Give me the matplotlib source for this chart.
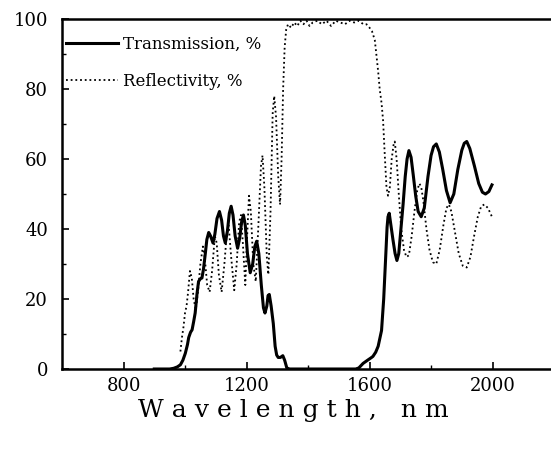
import matplotlib
matplotlib.use('Agg')
import matplotlib.pyplot as plt
from matplotlib.lines import Line2D

plt.rcParams['font.family'] = ['DejaVu Serif']

# Transmission (linea continua)
wl_t = [900, 950, 963, 975, 985, 993, 1001, 1008, 1012, 1018, 1023, 1028, 1033, 1039, 1044,
        1050, 1055, 1060, 1066, 1071, 1077, 1083, 1091, 1097, 1104, 1112, 1119, 1125, 1131,
        1138, 1144, 1150, 1156, 1163, 1171, 1178, 1184, 1190, 1196, 1203, 1212, 1220, 1227,
        1233, 1240, 1248, 1255, 1260, 1266, 1270, 1274, 1280, 1287, 1293, 1298, 1303, 1310,
        1318, 1324, 1331, 1340, 1555, 1565, 1579, 1595, 1605, 1611, 1620, 1628, 1639, 1646,
        1653, 1657, 1660, 1664, 1668, 1676, 1683, 1689, 1695, 1700, 1709, 1716, 1722, 1728,
        1735, 1742, 1750, 1758, 1768, 1778, 1790, 1800, 1808, 1817, 1827, 1838, 1850, 1862,
        1874, 1887, 1900, 1908, 1916, 1926, 1941, 1955, 1967, 1977, 1988, 1998]
trans = [0, 0, 0.2, 0.6, 1.2, 2.5, 4.5, 7, 9, 10.5, 11.2, 13.5, 16, 21.5, 25,
         25.8, 26, 28.5, 33, 37, 39, 38, 36, 38.5, 43, 45, 42.5, 38, 36,
         39.5, 44.5, 46.5, 44, 38, 34.5, 37.5, 42, 44, 41, 33, 27.5, 30, 35,
         36.5, 33, 24, 17.5, 16, 18, 21, 21.3, 18, 13, 6.5, 4, 3.3, 3.3,
         3.8, 2.5, 0.3, 0, 0, 0.3, 1.6, 2.6, 3.2, 3.6, 4.8, 6.5, 11, 20,
         33, 40.5, 43.5, 44.5, 42, 37, 33, 31, 33, 38, 47, 55, 60, 62.4,
         60.5, 55.5, 49.5, 45, 43.5, 46, 55, 61, 63.5, 64.3, 62, 57, 51, 47.5,
         50, 57, 62.5, 64.5, 65, 63, 58, 53, 50.5, 50, 50.7, 52.6]

# Reflectivity (linea punteada)
wl_r = [985, 990, 995, 1000, 1005, 1010, 1016, 1022, 1028, 1035, 1042, 1050, 1058, 1064,
        1072, 1080, 1088, 1097, 1103, 1110, 1119, 1128, 1137, 1142, 1150, 1160, 1168, 1176,
        1182, 1188, 1196, 1202, 1208, 1214, 1222, 1230, 1238, 1247, 1252, 1258, 1266, 1271,
        1278, 1285, 1290, 1296, 1303, 1309, 1314, 1319, 1324, 1329, 1335, 1345, 1355, 1365,
        1375, 1385, 1395, 1405, 1415, 1430, 1445, 1460, 1475, 1490, 1505, 1520, 1535, 1550,
        1565, 1580, 1590, 1600, 1608, 1617, 1622, 1628, 1633, 1639, 1644, 1649, 1655, 1660,
        1666, 1672, 1678, 1682, 1688, 1695, 1703, 1712, 1720, 1728, 1737, 1746, 1755, 1762,
        1768, 1775, 1785, 1795, 1806, 1817, 1828, 1840, 1850, 1858, 1866, 1878, 1890, 1903,
        1916, 1928, 1940, 1952, 1963, 1973, 1985, 1998]
refl = [5, 9, 12, 16, 18, 22, 28, 26, 20, 17, 22, 30, 35, 32,
        24, 22, 28, 38, 36, 27, 22, 30, 40, 41, 32, 22.5, 30, 42,
        44, 36, 24, 38, 49.5, 45, 30, 25, 40, 58, 61, 52, 32, 27,
        45, 73, 78, 72, 55, 47, 60, 80, 92, 97, 98.5, 97.5, 99, 98,
        99.5, 98.5, 99.5, 98, 99, 99.5, 98.5, 99.5, 98, 99.5, 99, 98.5, 99.5, 99,
        99.5, 98.5, 98.5, 97.5, 96.5, 94, 90, 85, 80, 76, 71, 62, 52, 49.5,
        52, 60, 64, 65, 60, 50, 40, 34, 32, 32.5, 38, 45, 51, 53,
        52, 48, 40, 34, 30.5, 30, 34, 41, 46, 47, 45, 39, 33, 29.5,
        29, 32, 38, 43.5, 46.5, 47, 46, 43.5]

fig = plt.figure(figsize=(5.51, 4.55), dpi=100)
ax = fig.add_axes([62 / 551, 86 / 455, 489 / 551, 350 / 455])

ax.plot(wl_t, trans, color='black', lw=2.2, solid_joinstyle='round')
ax.plot(wl_r, refl, color='black', lw=1.3, linestyle=(0, (1, 1.6)))

ax.set_xlim(600, 2190)
ax.set_ylim(0, 100)
ax.spines['right'].set_visible(False)
for s in ['left', 'top', 'bottom']:
    ax.spines[s].set_linewidth(1.8)

ax.set_xticks([800, 1200, 1600, 2000])
ax.set_xticks([1000, 1400, 1800], minor=True)
ax.set_yticks([0, 20, 40, 60, 80, 100])
ax.set_yticks([10, 30, 50, 70, 90], minor=True)
ax.tick_params(which='major', direction='in', length=5, width=1.2, labelsize=13)
ax.tick_params(which='minor', direction='in', length=3, width=1.0)
ax.tick_params(axis='x', pad=6)
ax.tick_params(axis='y', pad=10)

handles = [Line2D([], [], color='black', lw=2.2),
           Line2D([], [], color='black', lw=1.3, linestyle=(0, (1, 1.6)))]
ax.legend(handles, ['Transmission, %', 'Reflectivity, %'], loc='upper left',
          bbox_to_anchor=(0.008, 0.952), frameon=False, fontsize=12,
          handlelength=3.1, handletextpad=0.35, labelspacing=1.2,
          borderpad=0, borderaxespad=0)

fig.text(293 / 551, 44 / 455, 'W a v e l e n g t h ,   n m', ha='center', va='center',
         fontsize=18)

fig.savefig('out.png', dpi=100)
